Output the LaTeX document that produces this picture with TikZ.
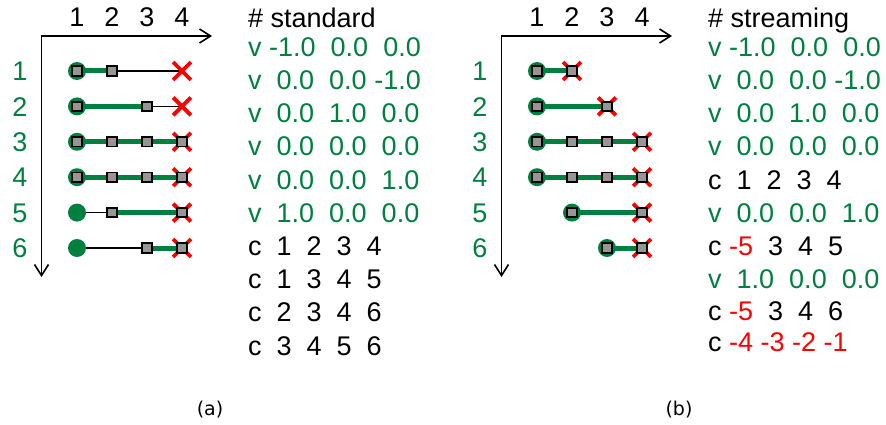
\documentclass[tikz,border=0pt]{standalone}
\usepackage{fontspec}
\setmainfont{Liberation Sans}
\newfontfamily\capfont{DejaVu Sans}
\usetikzlibrary{arrows.meta,shapes.misc}
\definecolor{gr}{RGB}{0,128,64}
\definecolor{sqg}{RGB}{150,150,150}
\tikzset{
  axis/.style={line width=1.6pt, arrows={Straight Barb[length=11pt,width=14pt]-Straight Barb[length=11pt,width=14pt]}},
  gline/.style={line width=5pt, draw=gr},
  bline/.style={line width=1.6pt, draw=black},
  dot/.style={circle, fill=gr, minimum size=18pt, inner sep=0pt},
  sq/.style={rectangle, draw=black, fill=sqg, line width=1.8pt, minimum size=9.5pt, inner sep=0pt},
  xm/.style={cross out, draw=red, line width=3.8pt, minimum size=14pt, inner sep=0pt},
  lbl/.style={font=\fontsize{27}{27}\selectfont, inner sep=0pt, anchor=base},
  txt/.style={font=\fontsize{27}{27}\selectfont, inner sep=0pt, anchor=base west},
  captxt/.style={font=\capfont\fontsize{19}{19}\selectfont, inner sep=0pt}
}
\begin{document}
\begin{tikzpicture}[x=1pt,y=-1pt]
\useasboundingbox (0,0) rectangle (886,425);
% grid coordinates
\foreach \p/\dx in {a/0,b/460}{
  \foreach \r in {1,...,6}{
    \foreach \c in {1,...,4}{
      \coordinate (\p\r\c) at ({\dx+77+35*(\c-1)},{71+35.4*(\r-1)});
    }
  }
  \coordinate (\p O) at (\dx+41.5,36);
  \coordinate (\p X) at (\dx+212,36);
  \coordinate (\p Y) at (\dx+41.5,277);
  \draw[axis] (\p X) -- (\p O) -- (\p Y);
  \foreach \c in {1,...,4}
    \node[lbl] (\p col\c) at ({\dx+77+35*(\c-1)},27) {\c};
  \foreach \r in {1,...,6}
    \node[lbl,text=gr] (\p row\r) at ({\dx+20},{71+35.4*(\r-1)+9.7}) {\r};
}
% connectors
\foreach \s/\e in {a11/a12,a21/a23,a31/a34,a41/a44,a52/a54,a63/a64,
                   b11/b12,b21/b23,b31/b34,b41/b44,b52/b54,b63/b64}
  \draw[gline] (\s) -- (\e);
\foreach \s/\e in {a12/a14,a23/a24,a51/a52,a61/a63}
  \draw[bline] (\s) -- (\e);
% start dots
\foreach \q in {a11,a21,a31,a41,a51,a61,b11,b21,b31,b41,b52,b63}
  \node[dot] (dot\q) at (\q) {};
% crosses
\foreach \q in {a14,a24,a34,a44,a54,a64,b12,b23,b34,b44,b54,b64}
  \node[xm] (x\q) at (\q) {};
% squares
\foreach \q in {a11,a12,a21,a23,a31,a32,a33,a34,a41,a42,a43,a44,a52,a54,a63,a64,
                b11,b12,b21,b23,b31,b32,b33,b34,b41,b42,b43,b44,b52,b54,b63,b64}
  \node[sq] (s\q) at (\q) {};
% text (a)
\node[txt] (ta0) at (248,28) {\# standard};
\node[txt,text=gr] (ta1) at (248,57) {v~-1.0~~0.0~~0.0};
\node[txt,text=gr] (ta2) at (248,90) {v~~0.0~~0.0~-1.0};
\node[txt,text=gr] (ta3) at (248,123) {v~~0.0~~1.0~~0.0};
\node[txt,text=gr] (ta4) at (248,156) {v~~0.0~~0.0~~0.0};
\node[txt,text=gr] (ta5) at (248,189) {v~~0.0~~0.0~~1.0};
\node[txt,text=gr] (ta6) at (248,222) {v~~1.0~~0.0~~0.0};
\node[txt] (ta7) at (248,255) {c~~1~~2~~3~~4};
\node[txt] (ta8) at (248,288) {c~~1~~3~~4~~5};
\node[txt] (ta9) at (248,321) {c~~2~~3~~4~~6};
\node[txt] (ta10) at (248,355) {c~~3~~4~~5~~6};
% text (b)
\node[txt] (tb0) at (708,28) {\# streaming};
\node[txt,text=gr] (tb1) at (708,57) {v~-1.0~~0.0~~0.0};
\node[txt,text=gr] (tb2) at (708,90) {v~~0.0~~0.0~-1.0};
\node[txt,text=gr] (tb3) at (708,123) {v~~0.0~~1.0~~0.0};
\node[txt,text=gr] (tb4) at (708,156) {v~~0.0~~0.0~~0.0};
\node[txt] (tb5) at (708,189) {c~~1~~2~~3~~4};
\node[txt,text=gr] (tb6) at (708,222) {v~~0.0~~0.0~~1.0};
\node[txt] (tb7) at (708,255) {c~\textcolor{red}{-5}~~3~~4~~5};
\node[txt,text=gr] (tb8) at (708,288) {v~~1.0~~0.0~~0.0};
\node[txt] (tb9) at (708,320) {c~\textcolor{red}{-5}~~3~~4~~6};
\node[txt] (tb10) at (708,351) {c~\textcolor{red}{-4~-3~-2~-1}};
% captions
\node[captxt] (capa) at (210,410) {(a)};
\node[captxt] (capb) at (679,410) {(b)};
\end{tikzpicture}
\end{document}
